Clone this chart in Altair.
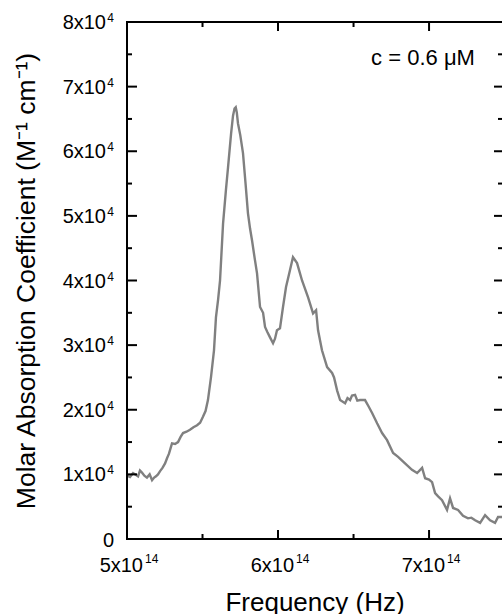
import altair as alt
import pandas as pd

# Data (frequency in units of 1e14 Hz, coefficient in units of 1e4 M^-1 cm^-1)
freq_e14 = [5.000, 5.020, 5.040, 5.060, 5.073, 5.086, 5.099, 5.115, 5.132, 5.150, 5.166, 5.180,
            5.192, 5.205, 5.219, 5.235, 5.252, 5.265, 5.278, 5.298, 5.318, 5.338, 5.355, 5.371,
            5.394, 5.417, 5.440, 5.464, 5.484, 5.503, 5.520, 5.536, 5.556, 5.576, 5.589, 5.603,
            5.616, 5.636, 5.655, 5.669, 5.689, 5.702, 5.712, 5.720, 5.727, 5.735, 5.750, 5.768,
            5.785, 5.801, 5.815, 5.828, 5.845, 5.861, 5.881, 5.901, 5.914, 5.930, 5.947, 5.967,
            5.980, 5.993, 6.013, 6.033, 6.053, 6.079, 6.099, 6.126, 6.159, 6.199, 6.232, 6.252,
            6.265, 6.291, 6.325, 6.358, 6.371, 6.391, 6.411, 6.444, 6.460, 6.477, 6.490, 6.510,
            6.525, 6.543, 6.576, 6.600, 6.623, 6.656, 6.689, 6.722, 6.762, 6.795, 6.841, 6.887,
            6.921, 6.954, 6.974, 7.000, 7.020, 7.040, 7.060, 7.086, 7.119, 7.139, 7.159, 7.192,
            7.225, 7.258, 7.280, 7.305, 7.338, 7.371, 7.404, 7.437, 7.457, 7.483]
coef_e4 = [0.98, 0.96, 1.02, 0.99, 0.97, 1.06, 1.03, 0.98, 0.95, 1.00, 0.91, 0.95,
           0.97, 1.00, 1.05, 1.10, 1.17, 1.25, 1.32, 1.48, 1.47, 1.50, 1.58, 1.64,
           1.66, 1.69, 1.73, 1.76, 1.80, 1.89, 1.98, 2.15, 2.50, 2.92, 3.43, 3.70,
           4.00, 4.88, 5.40, 5.75, 6.27, 6.55, 6.66, 6.68, 6.60, 6.43, 6.25, 5.97,
           5.50, 5.04, 4.80, 4.62, 4.35, 4.11, 3.59, 3.50, 3.28, 3.20, 3.12, 3.03,
           3.10, 3.23, 3.26, 3.59, 3.90, 4.16, 4.36, 4.27, 4.00, 3.74, 3.49, 3.54,
           3.23, 2.92, 2.66, 2.57, 2.50, 2.30, 2.15, 2.10, 2.18, 2.15, 2.22, 2.23,
           2.14, 2.15, 2.15, 2.05, 1.95, 1.79, 1.64, 1.53, 1.33, 1.27, 1.17, 1.07,
           1.02, 1.10, 0.94, 0.92, 0.88, 0.71, 0.66, 0.60, 0.45, 0.63, 0.48, 0.45,
           0.36, 0.32, 0.33, 0.29, 0.25, 0.37, 0.29, 0.25, 0.34, 0.34]

x_major = [5, 6, 7]          # x 1e14 Hz
x_minor = [5.5, 6.5]
x_exponent = "14"
y_major = [0, 1, 2, 3, 4, 5, 6, 7, 8]   # x 1e4
y_minor = [0.5, 1.5, 2.5, 3.5, 4.5, 5.5, 6.5, 7.5]
y_exponent = "4"

annotation = "c = 0.6 μM"
x_title = "Frequency (Hz)"
y_title = "Molar Absorption Coefficient (M⁻¹ cm⁻¹)"

W, H = 375, 517
FONT = "Liberation Sans"

df = pd.DataFrame({"freq": [f * 1e14 for f in freq_e14],
                   "coef": [c * 1e4 for c in coef_e4]})

xscale = alt.Scale(domain=[5e14, 7.483e14], nice=False, zero=False)
yscale = alt.Scale(domain=[0, 8e4], nice=False, zero=False)

xaxis = alt.Axis(values=[v * 1e14 for v in x_major], labels=False, domain=False,
                 title=x_title, titleY=71, titleBaseline="alphabetic", titleFontSize=26)
yaxis = alt.Axis(values=[v * 1e4 for v in y_major], labels=False, domain=False,
                 title=y_title, titleX=-93, titleY=H / 2,
                 titleBaseline="alphabetic", titleFontSize=26.5)

line = alt.Chart(df).mark_line(color="#808080", strokeWidth=2.4).encode(
    x=alt.X("freq:Q", scale=xscale, axis=xaxis),
    y=alt.Y("coef:Q", scale=yscale, axis=yaxis),
)

def X(field="freq"):
    return alt.X(f"{field}:Q", scale=xscale, axis=xaxis)

def Y(field="coef"):
    return alt.Y(f"{field}:Q", scale=yscale, axis=yaxis)

def xticks(vals, y0, y1):
    return alt.Chart(pd.DataFrame({"freq": [v * 1e14 for v in vals]})).mark_rule(
        color="black", strokeWidth=2).encode(x=X(), y=alt.value(y0), y2=alt.value(y1))

def yticks(vals, x0, x1):
    return alt.Chart(pd.DataFrame({"coef": [v * 1e4 for v in vals]})).mark_rule(
        color="black", strokeWidth=2).encode(y=Y(), x=alt.value(x0), x2=alt.value(x1))

frame = [
    alt.Chart(pd.DataFrame({"a": [0]})).mark_rule(color="black", strokeWidth=2).encode(
        x=alt.value(0), x2=alt.value(W), y=alt.value(0)),
    alt.Chart(pd.DataFrame({"a": [0]})).mark_rule(color="black", strokeWidth=2).encode(
        x=alt.value(0), x2=alt.value(W), y=alt.value(H)),
    alt.Chart(pd.DataFrame({"a": [0]})).mark_rule(color="black", strokeWidth=2).encode(
        x=alt.value(0), y=alt.value(-1), y2=alt.value(H + 1)),
]

# tick labels with real superscript exponents
xl = pd.DataFrame({"freq": [v * 1e14 for v in x_major],
                   "base": [f"{v}x10" for v in x_major],
                   "exp": [x_exponent] * len(x_major)})
x_base = alt.Chart(xl).mark_text(font=FONT, fontSize=20, align="right", baseline="alphabetic",
                                 dx=16, color="black").encode(x=X(), y=alt.value(H + 33), text="base:N")
x_exp = alt.Chart(xl).mark_text(font=FONT, fontSize=12, align="left", baseline="alphabetic",
                                dx=18, color="black").encode(x=X(), y=alt.value(H + 24), text="exp:N")

nz = [v for v in y_major if v != 0]
yl = pd.DataFrame({"coef": [v * 1e4 for v in nz],
                   "base": [f"{v}x10" for v in nz],
                   "exp": [y_exponent] * len(nz)})
y_base = alt.Chart(yl).mark_text(font=FONT, fontSize=20, align="right", baseline="alphabetic",
                                 dx=-21, dy=7, color="black").encode(y=Y(), x=alt.value(0), text="base:N")
y_exp = alt.Chart(yl).mark_text(font=FONT, fontSize=12, align="right", baseline="alphabetic",
                                dx=-13, color="black").encode(y=Y(), x=alt.value(0), text="exp:N")
y_zero = alt.Chart(pd.DataFrame({"coef": [0], "base": ["0"]})).mark_text(
    font=FONT, fontSize=20, align="right", baseline="alphabetic", dx=-13, dy=7.5,
    color="black").encode(y=Y(), x=alt.value(0), text="base:N")

label = alt.Chart(pd.DataFrame({"t": [annotation]})).mark_text(
    font=FONT, fontSize=22, align="center", baseline="middle", color="black").encode(
    text="t:N", x=alt.value(296), y=alt.value(36))

chart = alt.layer(
    line,
    xticks(x_major, H, H - 9), xticks(x_minor, H, H - 5),
    xticks(x_major, 0, 9), xticks(x_minor, 0, 5),
    yticks(y_major, 0, 10), yticks(y_minor, 0, 5),
    yticks(y_major, W, W - 8), yticks(y_minor, W, W - 4),
    *frame, x_base, x_exp, y_base, y_exp, y_zero, label,
).properties(
    width=W, height=H,
    autosize=alt.AutoSizeParams(type="none"),
    padding={"left": 127, "top": 22, "right": 0, "bottom": 75},
    background="white",
).configure_view(stroke=None).configure_axis(
    grid=False, ticks=False, labelColor="black", labelFont=FONT,
    titleColor="black", titleFont=FONT, titleFontWeight="normal",
)

chart.save("out.html", embed_options={"renderer": "svg", "actions": False})
